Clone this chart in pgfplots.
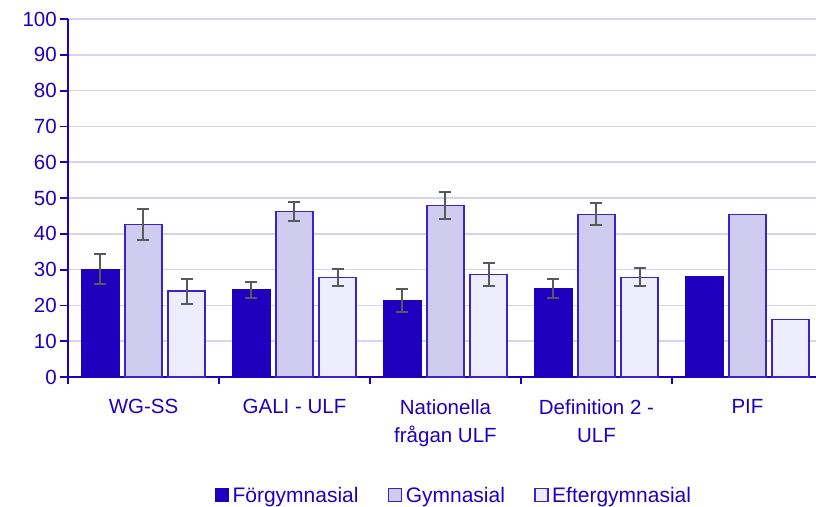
\documentclass[border=0pt]{standalone}
\usepackage{pgfplots}
\pgfplotsset{compat=1.18}
\usepackage{fontspec}
\setmainfont{Liberation Sans}
\definecolor{mainblue}{HTML}{1E00BE}
\definecolor{gymfill}{HTML}{D0CCF0}
\definecolor{eftfill}{HTML}{EDEDFD}
\definecolor{barline}{HTML}{3A22CC}
\definecolor{gridc}{HTML}{D4D4EC}
\definecolor{errgray}{HTML}{595959}
\begin{document}
\begin{tikzpicture}
\begin{axis}[
  scale only axis,
  width=748pt, height=358pt,
  xmin=-0.5, xmax=4.454,
  ymin=0, ymax=100,
  ytick={0,10,...,100},
  xtick={0,1,2,3,4},
  xticklabels={WG-SS, GALI - ULF, Nationella\\frågan ULF, Definition 2 -\\ULF, PIF},
  minor xtick={-0.5,0.5,1.5,2.5,3.5},
  axis x line=bottom, axis y line=left,
  axis line style={mainblue, line width=1.8pt, -},
  tick align=outside,
  major tick length=8pt,
  minor tick length=7pt,
  x tick style={draw=none},
  minor x tick style={draw=mainblue, line width=1.8pt},
  y tick style={mainblue, line width=1.8pt},
  ymajorgrids,
  grid style={gridc, line width=1.6pt},
  /pgf/number format/assume math mode=true,
  tick label style={font=\fontsize{20.5}{28}\selectfont, text=mainblue},
  yticklabel style={inner sep=0pt, xshift=-3pt},
  xticklabel style={inner sep=0pt, align=center, yshift=-14pt},
  legend style={at={(0.517,-0.33)}, anchor=center, draw=none, fill=none,
    legend columns=3, font=\fontsize{21}{24}\selectfont, text=mainblue,
    nodes={inner xsep=3.5pt},
    /tikz/every even column/.append style={column sep=26pt}},
  legend image code/.code={\draw[#1, line width=1.2pt] (0pt,-6.5pt) rectangle (13pt,6.5pt);},
]
\addplot[ybar, bar width=0.245, bar shift=-0.285, fill=mainblue, draw=mainblue, line width=1.2pt]
  coordinates {(0,30.1) (1,24.3) (2,21.4) (3,24.8) (4,28.1)};
\addlegendentry{Förgymnasial}
\addplot[ybar, bar width=0.245, bar shift=0, fill=gymfill, draw=barline, line width=1.2pt]
  coordinates {(0,42.7) (1,46.2) (2,48.0) (3,45.5) (4,45.5)};
\addlegendentry{Gymnasial}
\addplot[ybar, bar width=0.245, bar shift=0.285, fill=eftfill, draw=barline, line width=1.2pt]
  coordinates {(0,24.0) (1,27.7) (2,28.7) (3,27.9) (4,16.0)};
\addlegendentry{Eftergymnasial}
\addplot[draw=none, mark=none, forget plot,
  error bars/.cd, y dir=both, y explicit,
  error bar style={line width=2pt, draw=errgray},
  error mark options={rotate=90, mark size=6pt, line width=2pt, draw=errgray}]
  coordinates {
    (-0.285,30.1) +- (0,4.2)
    (0.715,24.3) +- (0,2.3)
    (1.715,21.4) +- (0,3.2)
    (2.715,24.8) +- (0,2.7)
    (0,42.7) +- (0,4.3)
    (1,46.2) +- (0,2.6)
    (2,48.0) +- (0,3.8)
    (3,45.5) +- (0,3.0)
    (0.285,24.0) +- (0,3.5)
    (1.285,27.7) +- (0,2.4)
    (2.285,28.7) +- (0,3.2)
    (3.285,27.9) +- (0,2.6)
  };
\end{axis}
\pgfresetboundingbox
\path (current axis.south west) ++(-68pt,-129pt) rectangle ++(816pt,506pt);
\end{tikzpicture}
\end{document}
